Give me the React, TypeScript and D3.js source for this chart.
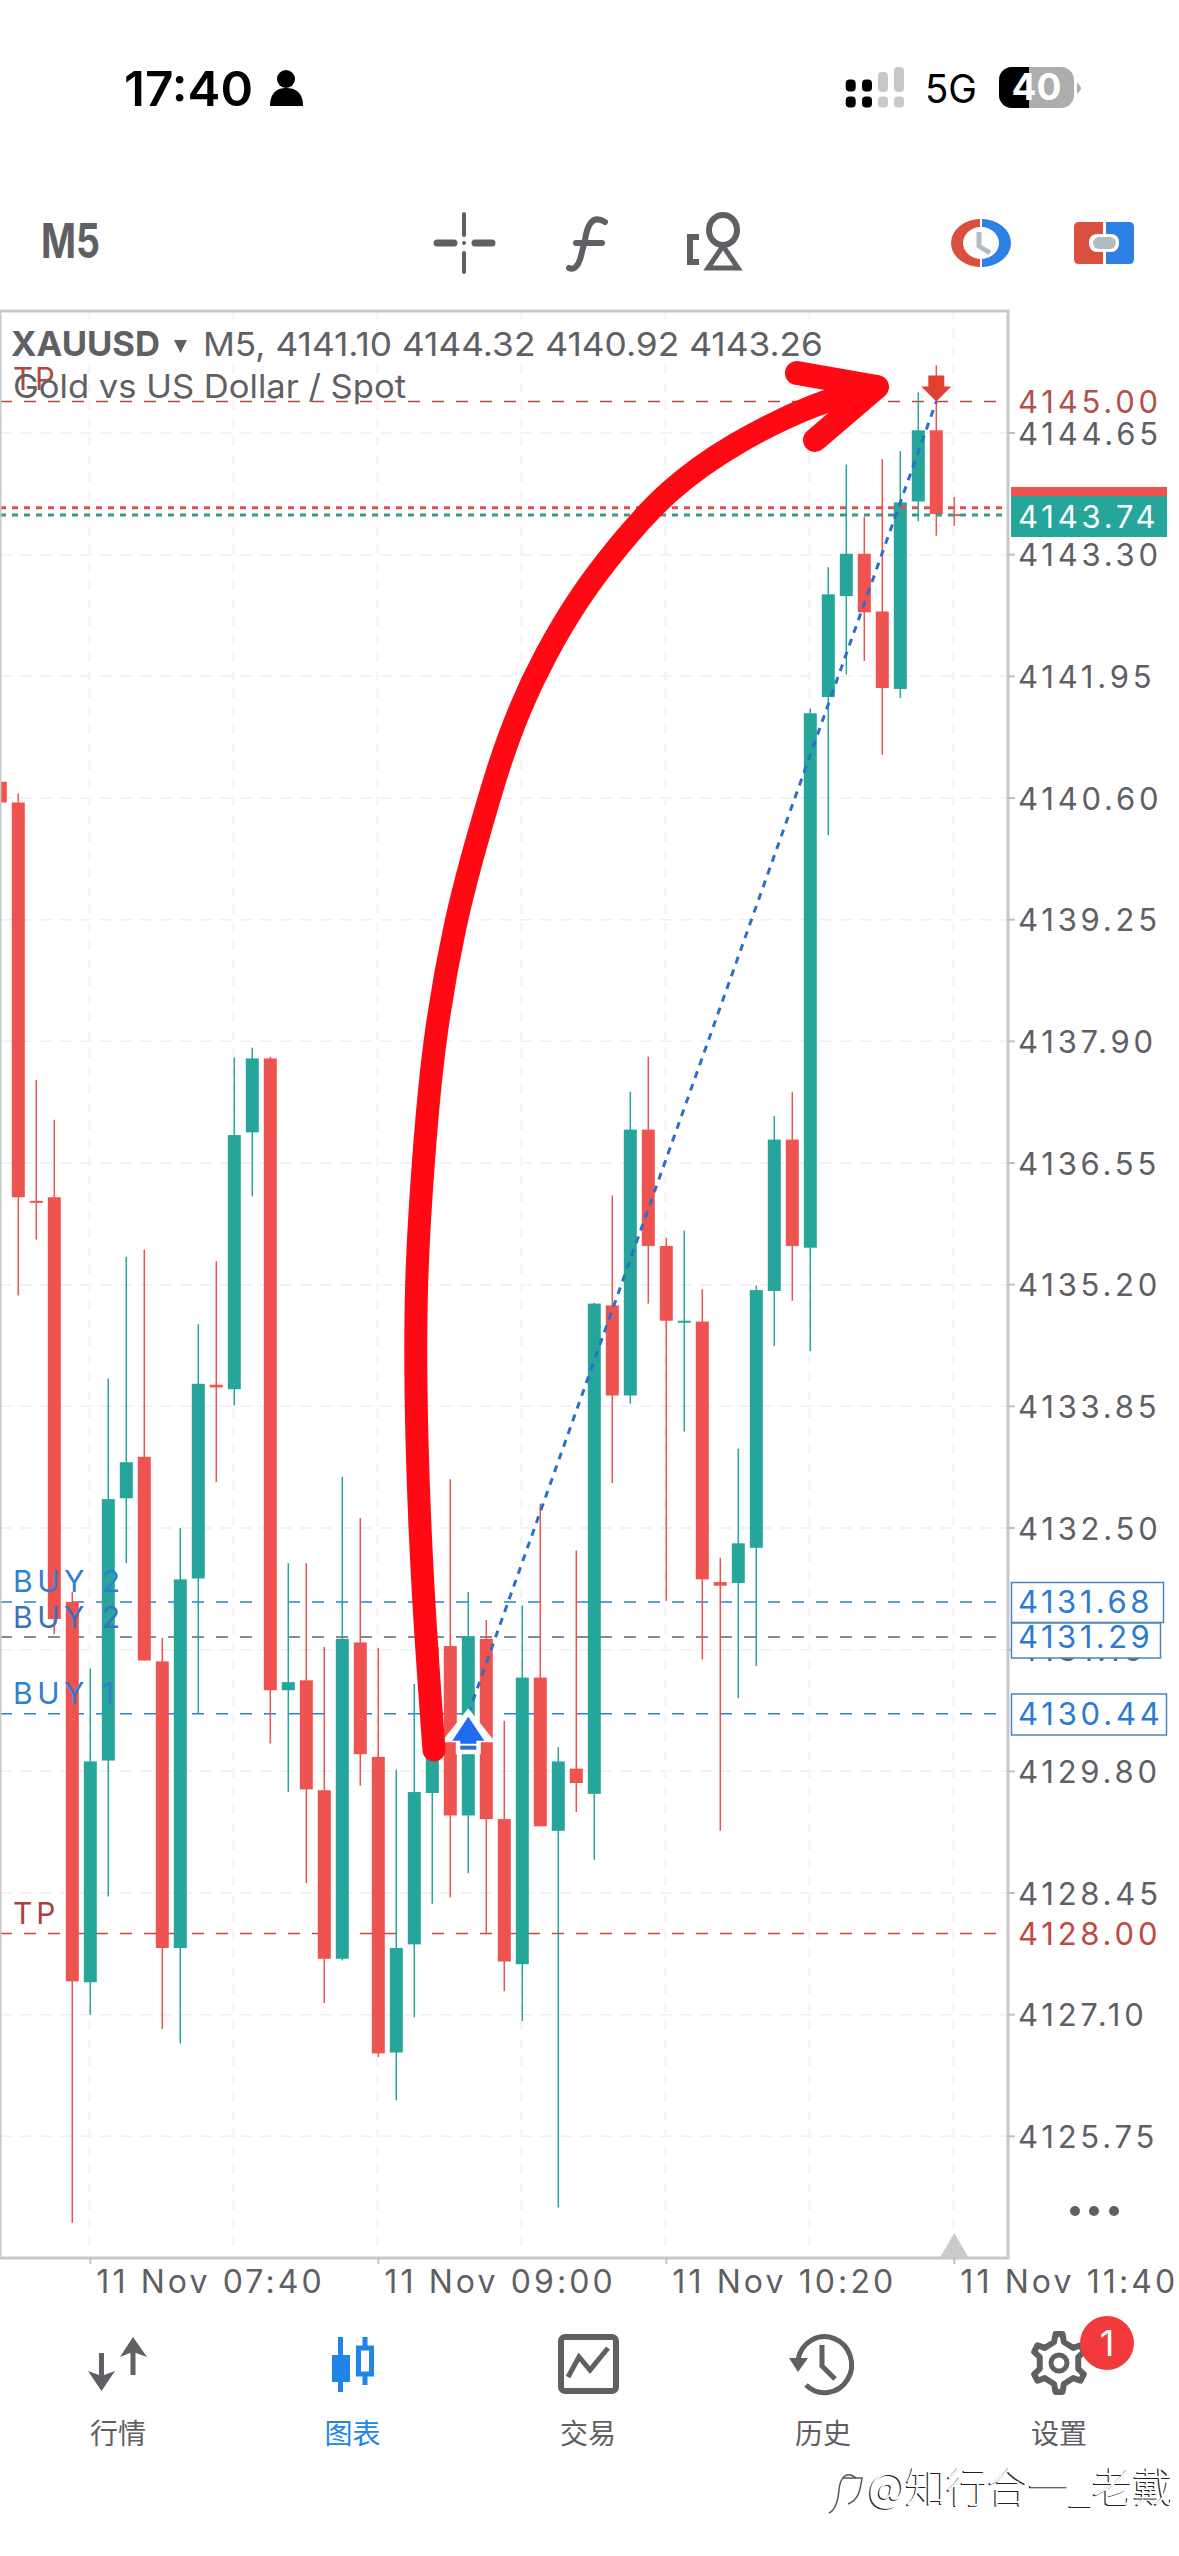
import React from 'react';
import * as d3 from 'd3';

// M5 candles (first bar is cut by the left edge)
const opens = [4140.78, 4140.55, 4136.13, 4136.17, 4131.68, 4127.46, 4129.92, 4132.83, 4133.29, 4131.02, 4127.84, 4131.94, 4134.09, 4134.04, 4136.89, 4137.71, 4130.70, 4130.81, 4129.59, 4127.72, 4131.23, 4129.96, 4126.68, 4127.88, 4129.56, 4131.19, 4129.31, 4131.27, 4129.27, 4127.66, 4130.84, 4129.14, 4129.83, 4129.55, 4134.97, 4133.97, 4136.92, 4135.63, 4134.79, 4134.79, 4131.90, 4131.89, 4132.28, 4135.13, 4136.81, 4135.61, 4141.72, 4142.84, 4143.31, 4142.67, 4141.81, 4143.89, 4144.68, 4143.75];
const highs = [4140.78, 4140.65, 4137.47, 4137.03, 4131.79, 4130.94, 4134.16, 4135.51, 4135.59, 4131.28, 4132.50, 4134.76, 4135.46, 4137.72, 4137.83, 4137.73, 4132.11, 4132.11, 4131.18, 4133.07, 4132.61, 4131.17, 4129.82, 4130.77, 4132.07, 4133.04, 4131.79, 4131.48, 4130.36, 4131.64, 4132.77, 4130.07, 4132.25, 4135.00, 4136.19, 4137.34, 4137.73, 4135.72, 4135.80, 4135.15, 4132.17, 4133.38, 4135.19, 4137.07, 4137.34, 4141.59, 4143.16, 4144.30, 4143.72, 4144.36, 4144.45, 4145.10, 4145.40, 4143.94];
const lows = [4140.55, 4135.08, 4135.70, 4131.32, 4124.79, 4127.10, 4128.41, 4132.11, 4131.03, 4126.94, 4126.78, 4130.44, 4133.01, 4133.86, 4136.18, 4130.11, 4129.57, 4128.56, 4127.23, 4127.70, 4129.64, 4126.63, 4126.15, 4127.07, 4128.33, 4128.40, 4128.67, 4128.01, 4127.36, 4127.03, 4129.19, 4124.96, 4129.35, 4128.82, 4133.00, 4133.88, 4134.99, 4131.69, 4133.57, 4131.04, 4129.14, 4130.61, 4130.97, 4134.52, 4135.02, 4134.46, 4140.19, 4141.97, 4142.12, 4141.08, 4141.71, 4143.67, 4143.51, 4143.62];
const closes = [4140.55, 4136.17, 4136.11, 4131.49, 4127.47, 4129.91, 4132.82, 4133.23, 4131.03, 4127.84, 4131.93, 4134.10, 4134.06, 4136.86, 4137.71, 4130.70, 4130.79, 4129.60, 4127.72, 4131.27, 4129.99, 4126.67, 4127.84, 4129.57, 4131.18, 4129.31, 4131.30, 4129.27, 4127.69, 4130.84, 4129.19, 4129.91, 4129.67, 4134.99, 4133.97, 4136.92, 4135.63, 4134.80, 4134.80, 4131.93, 4131.86, 4132.33, 4135.14, 4136.81, 4135.63, 4141.54, 4142.86, 4143.31, 4142.66, 4141.82, 4143.88, 4144.68, 4143.75, 4143.74];

const priceTicks = ['4144.65', '4143.30', '4141.95', '4140.60', '4139.25', '4137.90', '4136.55', '4135.20', '4133.85', '4132.50', '4131.15', '4129.80', '4128.45', '4127.10', '4125.75'];
const gridBars = [5, 13, 21, 29, 37, 45, 53];
const timeTickBars = [5, 21, 37, 53];
const timeLabels = ['11 Nov 07:40', '11 Nov 09:00', '11 Nov 10:20', '11 Nov 11:40'];

const orderPrices = [4145.0, 4131.68, 4131.29, 4130.44, 4128.0];
const orderColors = ['#b5473f', '#2f7fd0', '#5c6670', '#2f7fd0', '#d0443a'];
const ask = 4143.82;
const bid = 4143.74;

const entry = { bar: 26, price: 4130.44 };
const exit = { bar: 52, price: 4145.0 };

const navLabels = ['行情', '图表', '交易', '历史', '设置'];

const UP = '#26a69a';
const DOWN = '#ef5350';
const GREY = '#5f6063';
const sans = 'Inter, "Liberation Sans", sans-serif';
const cjk = '"Noto Sans CJK SC", sans-serif';

const WIDTH = 1179;
const HEIGHT = 2556;
const frame = { left: 0, right: 1008, top: 311, bottom: 2258 };

const x = d3.scaleLinear().domain([0, 53]).range([0.3, 954.3]);
const y = d3.scaleLinear().domain([4128.45, 4144.65]).range([1893, 433]);
const BODY = 13;

// hand drawn red stroke over the chart
const strokePoints: [number, number][] = [
  [434, 1750], [423, 1600], [416, 1440], [415, 1285], [423, 1163], [433, 1043], [455, 920], [477, 840],
  [498, 767], [520, 707], [545, 655], [577, 600], [617, 547], [667, 490], [733, 443], [817, 402], [877, 387],
];
const redLine = d3.line().curve(d3.curveBasis);

function gearPath(cx: number, cy: number) {
  const pts: [number, number][] = [];
  const teeth = 6;
  for (let t = 0; t < teeth; t++) {
    const a = (t / teeth) * Math.PI * 2 - Math.PI / 2;
    const s = Math.PI / teeth;
    [[-0.5, 20], [-0.26, 27], [0.26, 27], [0.5, 20]].forEach(([k, r]) => {
      pts.push([cx + r * Math.cos(a + k * s * 0.95), cy + r * Math.sin(a + k * s * 0.95) * 1.08]);
    });
  }
  return d3.line().curve(d3.curveLinearClosed)(pts) as string;
}

function StatusBar() {
  return (
    <g>
      <text x={124} y={106} fontFamily={sans} fontWeight={600} fontSize={48} fill="#000" textLength={129} lengthAdjust="spacingAndGlyphs">17:40</text>
      <ellipse cx={286} cy={79} rx={9} ry={9} fill="#000" />
      <path d="M270 106 C270 92 278 88 286 88 C295 88 303 92 303 106 Z" fill="#000" />
      {[850.7, 867].map(cx => (
        <g key={cx}>
          <rect x={cx - 5} y={79.5} width={10} height={12} rx={4} fill="#000" />
          <rect x={cx - 5} y={96.5} width={10} height={11} rx={4} fill="#000" />
        </g>
      ))}
      <rect x={878} y={72} width={10} height={20} rx={4} fill="#c8c8c8" />
      <rect x={878} y={96.5} width={10} height={11} rx={4} fill="#c8c8c8" />
      <rect x={894} y={67} width={10} height={25} rx={4} fill="#c8c8c8" />
      <rect x={894} y={96.5} width={10} height={11} rx={4} fill="#c8c8c8" />
      <text x={925} y={103} fontFamily={sans} fontSize={39} fontWeight={400} fill="#000" textLength={52} lengthAdjust="spacingAndGlyphs">5G</text>
      <clipPath id="batLeft"><rect x={995} y={60} width={34} height={55} /></clipPath>
      <rect x={999} y={67} width={75} height={41} rx={13} fill="#adadad" />
      <rect x={999} y={67} width={75} height={41} rx={13} fill="#000" clipPath="url(#batLeft)" />
      <path d="M1077 82 Q1081 87 1081 88 Q1081 90 1077 94 Z" fill="#adadad" />
      <text x={1036.5} y={100} fontFamily={sans} fontSize={37} fontWeight={700} fill="#fff" textAnchor="middle">40</text>
    </g>
  );
}

function Toolbar() {
  return (
    <g>
      <text x={41} y={258} fontFamily={sans} fontWeight={700} fontSize={48} fill={GREY} textLength={59} lengthAdjust="spacingAndGlyphs">M5</text>
      <g stroke={GREY} fill="none" strokeLinecap="round">
        <path d="M464 214 V235 M464 253 V272" strokeWidth={4} />
        <path d="M437 243 H454 M475 243 H492" strokeWidth={7} />
        <path d="M605 222 C592 214 587 226 585 240 L581 256 C578 268 573 270 569 268" strokeWidth={6} />
        <path d="M576 243 H602" strokeWidth={6} />
        <ellipse cx={723} cy={230} rx={14} ry={15} strokeWidth={6} />
        <path d="M723 246 L708 268 H738 Z" strokeWidth={5} strokeLinejoin="miter" strokeLinecap="butt" />
        <path d="M699 237 H690 V262 H699" strokeWidth={6} strokeLinecap="butt" />
      </g>
      <circle cx={464} cy={243} r={2} fill={GREY} />
      {/* clock button */}
      <clipPath id="clockLeft"><rect x={945} y={210} width={35} height={70} /></clipPath>
      <clipPath id="clockRight"><rect x={982} y={210} width={35} height={70} /></clipPath>
      <path d="M951 243 A30 24 0 1 1 1011 243 A30 24 0 1 1 951 243 Z M963 243 A18 16 0 1 0 999 243 A18 16 0 1 0 963 243 Z" fill="#d9503f" fillRule="evenodd" clipPath="url(#clockLeft)" />
      <path d="M951 243 A30 24 0 1 1 1011 243 A30 24 0 1 1 951 243 Z M963 243 A18 16 0 1 0 999 243 A18 16 0 1 0 963 243 Z" fill="#2f80e4" fillRule="evenodd" clipPath="url(#clockRight)" />
      <path d="M979 232 V246 L990 253" stroke="#b4bcc0" strokeWidth={5} fill="none" />
      {/* one click button */}
      <path d="M1079 222 H1103 V264 H1079 Q1074 264 1074 259 V227 Q1074 222 1079 222 Z" fill="#d9503f" />
      <path d="M1106 222 H1129 Q1134 222 1134 227 V259 Q1134 264 1129 264 H1106 Z" fill="#2f80e4" />
      <rect x={1089} y={234} width={30} height={18} rx={8} fill="#fff" />
      <rect x={1093} y={237} width={23} height={12} rx={6} fill="#b4bcc0" />
    </g>
  );
}

function Chart() {
  const bars = opens.map((open, i) => ({ i, open, close: closes[i], high: highs[i], low: lows[i] }));
  const axisText = { fontFamily: sans, fontSize: 31, letterSpacing: 3.8 };
  return (
    <g>
      <clipPath id="plot"><rect x={frame.left} y={frame.top} width={frame.right - frame.left} height={frame.bottom - frame.top} /></clipPath>
      <g clipPath="url(#plot)">
        {priceTicks.map(t => (
          <line key={t} x1={0} x2={frame.right} y1={y(+t)} y2={y(+t)} stroke="#f0f0f0" strokeWidth={1.5} strokeDasharray="12 8" />
        ))}
        {gridBars.map(b => (
          <line key={b} x1={x(b) - 1} x2={x(b) - 1} y1={frame.top} y2={frame.bottom} stroke="#f5f5f5" strokeWidth={2.5} strokeDasharray="9 9" />
        ))}
        {orderPrices.map((p, k) => (
          <line key={p} x1={0} x2={998} y1={y(p)} y2={y(p)} stroke={orderColors[k]} strokeWidth={1.5} strokeDasharray="12 12" />
        ))}
        {bars.map(d => {
          const color = d.close > d.open ? UP : DOWN;
          const top = y(Math.max(d.open, d.close));
          const h = Math.max(y(Math.min(d.open, d.close)) - top, 2);
          return (
            <g key={d.i}>
              <line x1={x(d.i)} x2={x(d.i)} y1={y(d.high)} y2={y(d.low)} stroke={color} strokeWidth={1.5} />
              <rect x={x(d.i) - BODY / 2} y={top} width={BODY} height={h} fill={color} />
            </g>
          );
        })}
        <line x1={0} x2={1002} y1={y(ask)} y2={y(ask)} stroke="#d9534f" strokeWidth={3} strokeDasharray="6 6" />
        <line x1={0} x2={1002} y1={y(bid)} y2={y(bid)} stroke="#3b9a8d" strokeWidth={3} strokeDasharray="6 6" />
        <line x1={x(entry.bar)} x2={x(exit.bar)} y1={y(entry.price)} y2={y(exit.price)} stroke="#2b6fc8" strokeWidth={3} strokeDasharray="7 6.5" />
      </g>

      {/* chart frame */}
      <path d={`M${frame.left} ${frame.bottom} V${frame.top} H${frame.right} V${frame.bottom} Z`} fill="none" stroke="#c8c8c8" strokeWidth={3} />

      {/* price axis */}
      {priceTicks.map(t => (
        <g key={t}>
          <line x1={frame.right} x2={1015} y1={y(+t)} y2={y(+t)} stroke="#c0c0c0" strokeWidth={2} />
          <text x={1018} y={y(+t) + 11.5} {...axisText} fill={GREY}>{t}</text>
        </g>
      ))}

      {/* time axis */}
      {timeTickBars.map((b, k) => (
        <g key={b}>
          <line x1={x(b)} x2={x(b)} y1={frame.bottom} y2={frame.bottom + 6} stroke="#c0c0c0" strokeWidth={2} />
          <text x={x(b) + 6} y={2293} fontFamily={sans} fontSize={32} fill={GREY} letterSpacing={3.1}>{timeLabels[k]}</text>
        </g>
      ))}

      {/* order labels */}
      <text x={1018} y={y(4145) + 11.5} {...axisText} fill="#b0524a">4145.00</text>
      <text x={1018} y={y(4128) + 11.5} {...axisText} fill="#bd4a42">4128.00</text>

      <rect x={1011} y={487} width={156} height={41} fill={DOWN} />
      <rect x={1011} y={496} width={156} height={41} fill={UP} />
      <text x={1018} y={y(bid) + 12.5} {...axisText} fill="#fff">{bid.toFixed(2)}</text>

      <rect x={1011.5} y={1582.5} width={152} height={40} fill="#fff" stroke="#4a86bd" strokeWidth={1.5} />
      <rect x={1011.5} y={1623} width={149} height={35} fill="#fff" stroke="#4a86bd" strokeWidth={1.5} />
      <rect x={1011.5} y={1694} width={155} height={41} fill="#fff" stroke="#4a86bd" strokeWidth={1.5} />
      <text x={1018} y={1613} {...axisText} fill="#2b7bd0" letterSpacing={3.5}>4131.68</text>
      <text x={1018} y={1648} {...axisText} fill="#2b7bd0" letterSpacing={3.5}>4131.29</text>
      <text x={1018} y={1725} {...axisText} fill="#2b7bd0">4130.44</text>

      {/* header */}
      <text x={11} y={356} fontFamily={sans} fontWeight={700} fontSize={34} fill={GREY} textLength={149} lengthAdjust="spacingAndGlyphs">XAUUSD</text>
      <path d="M174 340 H187 L180.5 353 Z" fill={GREY} />
      <text x={203} y={356} fontFamily={sans} fontSize={33} fill={GREY} textLength={620} lengthAdjust="spacingAndGlyphs">M5, 4141.10 4144.32 4140.92 4143.26</text>
      <text x={13} y={390} fontFamily={sans} fontSize={31} fill="#b5473f" letterSpacing={2}>TP</text>
      <text x={13} y={398} fontFamily={sans} fontSize={33} fill={GREY} textLength={393} lengthAdjust="spacingAndGlyphs">Gold vs US Dollar / Spot</text>

      {/* line labels */}
      <g fontFamily={sans} fontSize={30} fill="#2f7fd0" letterSpacing={4.5}>
        <text x={13} y={1592}>BUY 2</text>
        <text x={13} y={1628} fill="#3a72c0">BUY 2</text>
        <text x={13} y={1704}>BUY 1</text>
      </g>
      <text x={13} y={1924} fontFamily={sans} fontSize={30} fill="#a8433c" letterSpacing={4}>TP</text>

      {/* trade arrows */}
      <g transform={`translate(${x(entry.bar)},${y(entry.price)})`}>
        <path d="M0 -3 L-24 27 H-11 V39 H11 V27 H24 Z" fill="#fff" stroke="#fff" strokeWidth={3} />
        <path d="M0 3 L-16 27 H-8 V30 H8 V27 H16 Z" fill="#1f6cf0" />
        <rect x={-8} y={32} width={16} height={4} fill="#2b6fd8" />
      </g>
      <g transform={`translate(${x(exit.bar)},${y(exit.price)})`}>
        <path d="M0 0 L-15 -15 H-8 V-26 H8 V-15 H15 Z" fill="#e0402f" />
      </g>

      {/* red stroke */}
      <g fill="none" stroke="#ff0a14" strokeLinecap="round" strokeLinejoin="round">
        <path d={redLine(strokePoints) as string} strokeWidth={23} />
        <path d="M797 373 L877 387 L815 440" strokeWidth={24} />
      </g>

      {/* more dots and cursor handle */}
      {[1075, 1094, 1114].map(cx => <circle key={cx} cx={cx} cy={2211} r={5} fill={GREY} />)}
      <path d={`M${x(53) - 14} 2257 L${x(53)} 2233 L${x(53) + 14} 2257 Z`} fill="#cacaca" />
    </g>
  );
}

function NavBar() {
  const centers = [118, 352.5, 588, 823, 1059];
  return (
    <g>
      {navLabels.map((t, k) => (
        <text key={t} x={centers[k]} y={2444} textAnchor="middle" fontFamily={cjk} fontSize={28} fill={k === 1 ? '#2185e8' : GREY}>{t}</text>
      ))}
      <g stroke={GREY} strokeWidth={5} fill="none">
        <path d="M101.5 2353 V2385 M133 2342 V2375" />
      </g>
      <path d="M88 2371 L101.5 2391 L115 2371 L104 2375 H99 Z M120 2357 L133 2337 L147 2357 L136 2353 H130 Z" fill={GREY} />
      <g fill="#2185e8">
        <rect x={338} y={2337} width={5} height={55} />
        <rect x={332} y={2355} width={18} height={27} />
        <rect x={362.5} y={2337} width={5} height={48} />
      </g>
      <rect x={358.5} y={2348} width={13} height={26} fill="#fff" stroke="#2185e8" strokeWidth={5} />
      <rect x={561} y={2337} width={55} height={54} rx={4} fill="none" stroke={GREY} strokeWidth={6} />
      <path d="M568 2377 L579 2357 L590 2370 L608 2348" fill="none" stroke={GREY} strokeWidth={5} strokeLinejoin="miter" />
      <path d="M798 2360 A27 28 0 1 1 806 2385" fill="none" stroke={GREY} strokeWidth={5} />
      <path d="M789 2358 H808 L798 2372 Z" fill={GREY} />
      <path d="M822 2345 V2366 L835 2379" fill="none" stroke={GREY} strokeWidth={5} />
      <path d={gearPath(1059, 2363)} fill="none" stroke={GREY} strokeWidth={6} strokeLinejoin="round" />
      <circle cx={1059} cy={2363} r={8} fill="none" stroke={GREY} strokeWidth={5} />
      <ellipse cx={1107} cy={2343} rx={27} ry={27} fill="#f23a3c" />
      <text x={1107} y={2356} textAnchor="middle" fontFamily={sans} fontSize={36} fill="#fff">1</text>
    </g>
  );
}

function Watermark() {
  const label = '@知行合一_老戴';
  return (
    <g fontFamily={cjk} fontSize={41} fontWeight={300}>
      <text x={866.8} y={2503} fill="#222">{label}</text>
      <text x={868} y={2502} fill="#fff">{label}</text>
      <path d="M856 2478 C846 2470 840 2478 839 2490 C838 2500 836 2510 829 2513" fill="none" stroke="#555" strokeWidth={1.5} />
      <path d="M843 2478 H862 C860 2492 858 2500 848 2504" fill="none" stroke="#555" strokeWidth={1.5} />
    </g>
  );
}

export default function App() {
  return (
    <svg width={WIDTH} height={HEIGHT} viewBox={`0 0 ${WIDTH} ${HEIGHT}`} style={{ position: 'absolute', left: 0, top: 0, background: '#fff' }}>
      <StatusBar />
      <Toolbar />
      <Chart />
      <NavBar />
      <Watermark />
    </svg>
  );
}
